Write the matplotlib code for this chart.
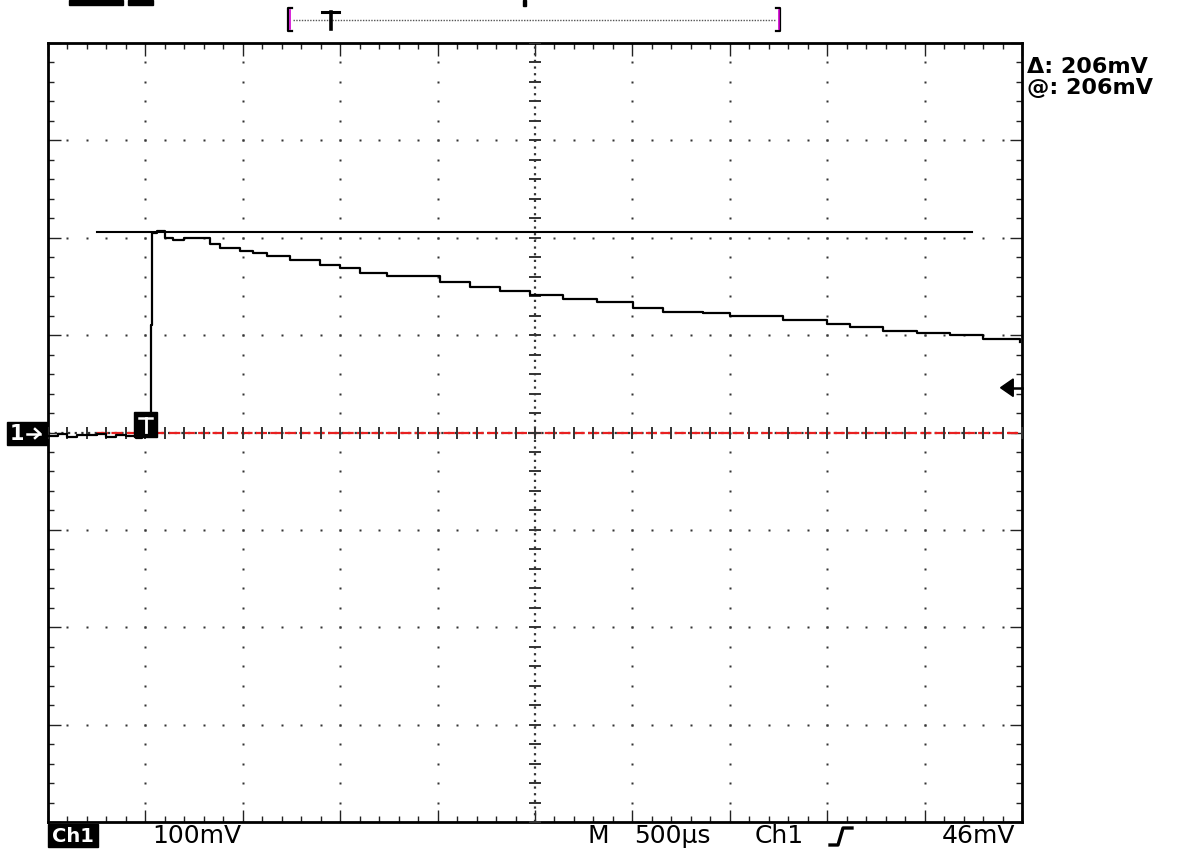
import numpy as np
import matplotlib
matplotlib.use("Agg")
import matplotlib.pyplot as plt
from matplotlib.patches import Rectangle, Polygon
from matplotlib.lines import Line2D
import matplotlib.transforms as mtransforms

# scope settings
volts_per_div = 100      # mV
time_per_div = 0.5       # ms
trig_level = 46          # mV
cursor_level = 206       # mV

# trace (ms, mV)
trace_t = [-0.50, -0.45, -0.40, -0.35, -0.30, -0.25, -0.20, -0.15, -0.10, -0.05, -0.02,
           0.02, 0.03, 0.035, 0.06, 0.10, 0.142, 0.20, 0.28, 0.33, 0.383, 0.486, 0.55,
           0.624, 0.742, 0.896, 0.999, 1.102, 1.240, 1.512, 1.666, 1.820, 1.974, 2.144,
           2.318, 2.503, 2.657, 2.862, 3.001, 3.273, 3.499, 3.617, 3.787, 3.961, 4.130,
           4.300, 4.490]
trace_mv = [-4, -2, -5, -3, -3, -2, -5, -3, -4, -6, -3,
            -3, 110, 205, 207, 200, 198, 200, 200, 194, 189, 186, 184,
            181, 177, 172, 169, 164, 161, 155, 149, 145, 141, 137,
            134, 128, 124, 123, 120, 116, 111, 108, 104, 102, 100,
            96, 93]

W, H = 1192, 856
fig = plt.figure(figsize=(W / 100, H / 100), dpi=100)
fig.patch.set_facecolor("white")

L, R, T, B = 48, 1022, 43, 822
ax = fig.add_axes([L / W, 1 - B / H, (R - L) / W, (B - T) / H])

x0, x1 = -time_per_div, 9 * time_per_div
y0, y1 = -4 * volts_per_div, 4 * volts_per_div
ax.set_xlim(x0, x1)
ax.set_ylim(y0, y1)
for s in ax.spines.values():
    s.set_linewidth(2)
    s.set_color("black")

ax.set_xticks(np.arange(x0, x1 + 1e-9, time_per_div))
ax.set_yticks(np.arange(y0, y1 + 1e-9, volts_per_div))
ax.set_xticks(np.arange(x0, x1 + 1e-9, time_per_div / 5), minor=True)
ax.set_yticks(np.arange(y0, y1 + 1e-9, volts_per_div / 5), minor=True)
ax.tick_params(which="both", direction="in", top=True, right=True,
               labelbottom=False, labelleft=False, color="#222222")
ax.tick_params(which="major", length=9, width=1.0)
ax.tick_params(which="minor", length=4, width=1.0)

# graticule dots
minor_x = np.arange(x0, x1 + 1e-9, time_per_div / 5)
minor_y = np.arange(y0, y1 + 1e-9, volts_per_div / 5)
xc = x0 + 5 * time_per_div
for i in range(1, 10):
    gx = x0 + i * time_per_div
    if i == 5:
        continue
    ax.plot(np.full_like(minor_y, gx), minor_y, ls="none", marker="s",
            ms=1.6, color="#333333", mec="none")
for j in range(1, 8):
    gy = y0 + j * volts_per_div
    if j == 4:
        continue
    ax.plot(minor_x, np.full_like(minor_x, gy), ls="none", marker="s",
            ms=1.6, color="#333333", mec="none")

# center cross
ax.axvline(xc, color="#333333", lw=1.6, ls=(0, (1, 2)))
ax.axhline(0, color="#333333", lw=1.6, ls=(0, (1, 2)))
ax.plot(np.full_like(minor_y, xc), minor_y, ls="none", marker="_", ms=9,
        mew=1.4, color="#333333", zorder=4)
ax.plot(minor_x, np.zeros_like(minor_x), ls="none", marker="|", ms=9,
        mew=1.4, color="#333333", zorder=4)

# ground reference (red)
ax.plot([-0.25, x1], [0, 0], color="#e82020", lw=1.6, ls=(0, (5, 1.5)), zorder=3)

# cursor line
ax.plot([-0.248, 4.243], [cursor_level, cursor_level], color="black", lw=1.5)

# trace
ax.plot(trace_t, trace_mv, color="black", lw=1.6, drawstyle="steps-post", zorder=5)

# trigger level arrow on the right
bt = mtransforms.blended_transform_factory(ax.transAxes, ax.transData)
ax.add_patch(Polygon([[0.978, trig_level], [0.991, trig_level + 9], [0.991, trig_level - 9]],
                     closed=True, transform=bt, color="black", clip_on=False))
ax.plot([0.985, 1.0], [trig_level, trig_level], color="black", lw=1.8,
        transform=bt, clip_on=False)


def fx(x):
    return x / W


def fy(y):
    return 1 - y / H


def frect(x, y, w, h, **kw):
    fig.add_artist(Rectangle((fx(x), fy(y + h)), w / W, h / H,
                             transform=fig.transFigure, **kw))


def fline(xs, ys, **kw):
    fig.add_artist(Line2D([fx(v) for v in xs], [fy(v) for v in ys],
                          transform=fig.transFigure, **kw))


font = "DejaVu Sans"
fs = 18

# top bars (cut off header)
frect(69, 0, 54, 5, color="black")
frect(128, 0, 25, 5, color="black")
frect(523, 0, 3, 6, color="black")

# trigger position bracket
fline([292, 288, 288, 292], [8, 8, 31, 31], color="black", lw=1.6)
fline([289.5, 289.5], [10, 29], color="#d000d0", lw=1.2)
fline([776, 780, 780, 776], [8, 8, 31, 31], color="black", lw=1.6)
fline([778.5, 778.5], [10, 29], color="#d000d0", lw=1.2)
fline([293, 775], [19.5, 19.5], color="#555555", lw=1.0, ls=(0, (1, 1)))
fline([322, 339], [12, 12], color="black", lw=2.2)
fline([330.5, 330.5], [12, 29], color="black", lw=2.6)

# channel marker on the left
frect(7, 422, 40, 23, color="black")
fig.text(fx(17), fy(434), "1", color="white", fontsize=15, fontweight="bold",
         ha="center", va="center", family=font)
fline([27, 40], [433.5, 433.5], color="white", lw=1.8)
fline([35, 40, 35], [429, 433.5, 438], color="white", lw=1.8)

# trigger marker on the trace
frect(134, 412, 23, 25, color="black")
fline([139, 152], [418, 418], color="white", lw=1.8)
fline([145.5, 145.5], [418, 432], color="white", lw=2.0)

# readouts
fig.text(fx(1027), fy(67), "\u0394: 206mV", fontsize=16, fontweight="bold",
         ha="left", va="center", family=font)
fig.text(fx(1027), fy(88), "@: 206mV", fontsize=16, fontweight="bold",
         ha="left", va="center", family=font)

frect(48, 824, 50, 23, color="black")
fig.text(fx(73), fy(836), "Ch1", color="white", fontsize=14, fontweight="bold",
         ha="center", va="center", family=font)
fig.text(fx(152), fy(836), "100mV", fontsize=fs, ha="left", va="center", family=font)
fig.text(fx(588), fy(836), "M", fontsize=fs, ha="left", va="center", family=font)
fig.text(fx(634), fy(836), "500\u00b5s", fontsize=fs, ha="left", va="center", family=font)
fig.text(fx(755), fy(836), "Ch1", fontsize=fs, ha="left", va="center", family=font)
fline([830, 838, 843, 852], [845, 845, 828, 828], color="black", lw=2.4)
fig.text(fx(1015), fy(836), "46mV", fontsize=fs, ha="right", va="center", family=font)

fig.savefig("out.png", dpi=100, facecolor="white")
